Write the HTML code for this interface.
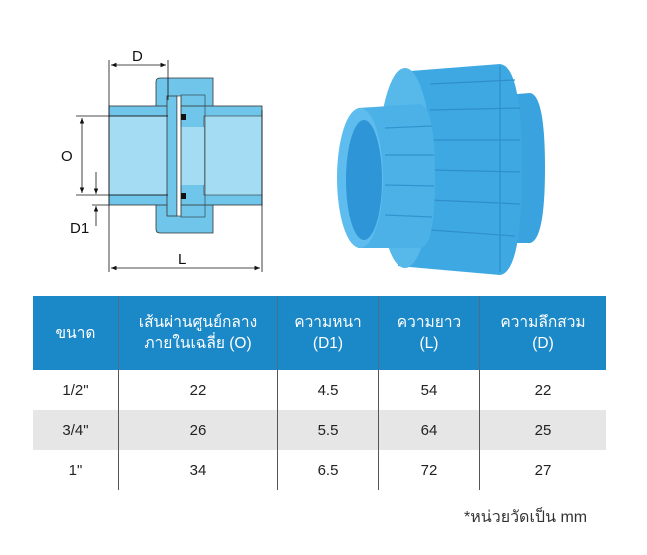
<!DOCTYPE html>
<html><head><meta charset="utf-8"><style>
body{margin:0;background:#fff;width:647px;height:555px;overflow:hidden;position:relative;font-family:"Liberation Sans","Noto Sans CJK SC",sans-serif}
table{position:absolute;left:33px;top:296px;border-collapse:collapse;width:573px}
td,th{text-align:center;font-size:15px;color:#222;font-weight:normal;border-left:1px solid #555;padding:0}
tr td:first-child,tr th:first-child{border-left:none}
th{background:#1b88c8;color:#fff;height:74px;border-left:1px solid #4a6f8a;line-height:21px;font-size:15.5px}
td{height:40px}
tr.g td{background:#e6e6e6}
.note{position:absolute;left:464px;top:505px;font-size:16px;color:#333}
</style></head><body>
<svg width="647" height="290" style="position:absolute;left:0;top:0" font-family="Liberation Sans, sans-serif">
<defs><marker id="a" viewBox="0 0 10 10" refX="10" refY="5" markerWidth="7" markerHeight="7" orient="auto-start-reverse"><path d="M0,1 L10,5 L0,9z" fill="#111"/></marker></defs>
<path d="M156,82 Q156,78 160,78 L213,78 L213,233 L160,233 Q156,233 156,229 Z" fill="#6fc6ea" stroke="#333" stroke-width="0.8"/>
<rect x="109" y="106" width="153" height="99" fill="#6fc6ea" stroke="#333" stroke-width="0.8"/>
<rect x="109" y="116" width="59" height="79" fill="#a3dcf3" stroke="#333" stroke-width="0.6"/>
<rect x="204" y="116" width="58" height="79" fill="#a3dcf3" stroke="#333" stroke-width="0.6"/>
<rect x="168" y="127" width="36" height="58" fill="#a3dcf3"/>
<rect x="167" y="96" width="10" height="120" fill="#6fc6ea" stroke="#333" stroke-width="0.8"/>
<rect x="177" y="96" width="4" height="120" fill="#fff" stroke="#333" stroke-width="0.6"/>
<rect x="181" y="95" width="24" height="122" fill="none" stroke="#333" stroke-width="0.6"/>
<rect x="181" y="114" width="5" height="6" fill="#111"/><rect x="181" y="193" width="5" height="6" fill="#111"/>
<g stroke="#111" stroke-width="0.8" fill="none">
<line x1="109" y1="60" x2="109" y2="272"/><line x1="262" y1="110" x2="262" y2="272"/>
<line x1="168" y1="60" x2="168" y2="100"/>
<line x1="111" y1="65" x2="166" y2="65" marker-start="url(#a)" marker-end="url(#a)"/>
<line x1="111" y1="268" x2="260" y2="268" marker-start="url(#a)" marker-end="url(#a)"/>
<line x1="76" y1="116" x2="168" y2="116"/><line x1="76" y1="195" x2="168" y2="195"/>
<line x1="82" y1="118" x2="82" y2="193" marker-start="url(#a)" marker-end="url(#a)"/>
<line x1="92" y1="205" x2="109" y2="205"/>
<line x1="96" y1="172" x2="96" y2="194" marker-end="url(#a)"/>
<line x1="96" y1="226" x2="96" y2="206" marker-end="url(#a)"/>
</g>
<text x="132" y="61" font-size="15" fill="#111">D</text>
<text x="61" y="161" font-size="15" fill="#111">O</text>
<text x="70" y="233" font-size="15" fill="#111">D1</text>
<text x="178" y="264" font-size="15" fill="#111">L</text>
<path d="M493,96 L530,93 Q545,95 545,168 Q545,240 530,243 L493,243 Z" fill="#3aa3df"/>
<path d="M398,72 L500,64 Q522,66 522,168 Q522,272 500,275 L398,266 Z" fill="#3ea8e2"/>
<g stroke="#2f8fcc" stroke-width="1.2">
<line x1="430" y1="84" x2="515" y2="80"/><line x1="430" y1="110" x2="520" y2="108"/><line x1="430" y1="140" x2="520" y2="140"/><line x1="430" y1="170" x2="520" y2="172"/><line x1="430" y1="200" x2="520" y2="204"/><line x1="430" y1="230" x2="515" y2="236"/>
<line x1="500" y1="66" x2="500" y2="272"/>
</g>
<ellipse cx="405" cy="168" rx="27" ry="100" fill="#57b8ea"/>
<path d="M358,108 L420,104 Q435,106 435,178 Q435,248 420,248 L358,248 Z" fill="#4cb1e6"/>
<g stroke="#2f95d0" stroke-width="1.2">
<line x1="385" y1="128" x2="432" y2="126"/><line x1="385" y1="155" x2="434" y2="155"/><line x1="385" y1="185" x2="434" y2="186"/><line x1="385" y1="215" x2="432" y2="217"/></g>
<ellipse cx="360" cy="178" rx="23" ry="70" fill="#5ebdee"/>
<ellipse cx="364" cy="180" rx="18" ry="60" fill="#2e96d6"/>
</svg>
<table>
<tr><th style="width:85px">ขนาด</th><th style="width:158px">เส้นผ่านศูนย์กลาง<br>ภายในเฉลี่ย (O)</th><th style="width:100px">ความหนา<br>(D1)</th><th style="width:100px">ความยาว<br>(L)</th><th>ความลึกสวม<br>(D)</th></tr>
<tr><td>1/2"</td><td>22</td><td>4.5</td><td>54</td><td>22</td></tr>
<tr class="g"><td>3/4"</td><td>26</td><td>5.5</td><td>64</td><td>25</td></tr>
<tr><td>1"</td><td>34</td><td>6.5</td><td>72</td><td>27</td></tr>
</table>
<div class="note">*หน่วยวัดเป็น mm</div>
</body></html>
